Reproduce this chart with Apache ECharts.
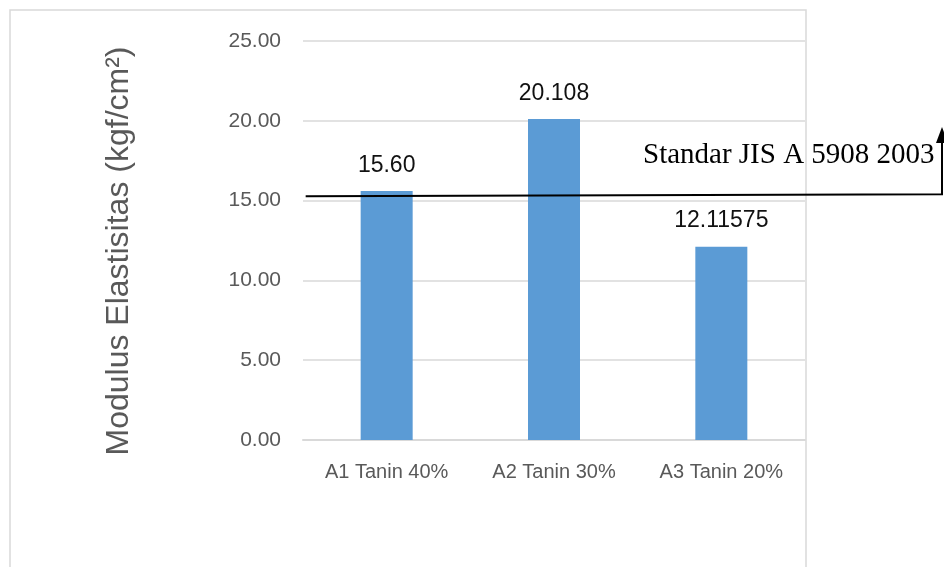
<!DOCTYPE html>
<html>
<head>
<meta charset="utf-8">
<script src="https://cdn.jsdelivr.net/npm/echarts@6/dist/echarts.min.js"></script>
<style>
  html, body { margin: 0; padding: 0; background: #fff; }
  #chart { width: 944px; height: 567px; }
</style>
</head>
<body>
<div id="chart"></div>
<script>
// Modulus of elasticity per tannin level
const categories = ['A1 Tanin 40%', 'A2 Tanin 30%', 'A3 Tanin 20%'];
const modulusValues = [15.60, 20.108, 12.11575];
const valueLabels = ['15.60', '20.108', '12.11575'];
const yTicks = { min: 0, max: 25, interval: 5 };
const yTitle = 'Modulus Elastisitas (kgf/cm²)';
// JIS A 5908 2003 reference level (left end, right end)
const standardLevel = [15.28, 15.40];
const standardText = 'Standar JIS A 5908 2003';

const chart = echarts.init(document.getElementById('chart'), null, { renderer: 'canvas' });

const sansFont = '"Liberation Sans", Arial, sans-serif';
const serifFont = '"Liberation Serif", "Times New Roman", serif';

chart.setOption({
  animation: false,
  backgroundColor: '#ffffff',
  grid: { left: 303, right: 139, top: 41, bottom: 127, containLabel: false },
  xAxis: {
    type: 'category',
    data: categories,
    axisTick: { show: false },
    axisLine: { show: true, lineStyle: { color: '#D9D9D9', width: 2 } },
    axisLabel: { color: '#595959', fontFamily: sansFont, fontSize: 20, margin: 22 }
  },
  yAxis: {
    type: 'value',
    min: yTicks.min,
    max: yTicks.max,
    interval: yTicks.interval,
    axisLine: { show: false },
    axisTick: { show: false },
    splitLine: { lineStyle: { color: '#D9D9D9', width: 1.5 } },
    axisLabel: {
      color: '#595959', fontFamily: sansFont, fontSize: 21, margin: 22,
      formatter: v => v.toFixed(2)
    }
  },
  series: [{
    type: 'bar',
    data: modulusValues,
    barWidth: 52,
    itemStyle: { color: '#5B9BD5' },
    label: {
      show: true,
      position: 'top',
      distance: 14,
      color: '#111111',
      fontFamily: sansFont,
      fontSize: 23,
      formatter: p => valueLabels[p.dataIndex]
    }
  }]
});

// Chart frame, axis title, standard reference line with arrow, and its caption
const yLeft = chart.convertToPixel({ yAxisIndex: 0 }, standardLevel[0]);
const yRight = chart.convertToPixel({ yAxisIndex: 0 }, standardLevel[1]);
const xLeft = chart.convertToPixel({ xAxisIndex: 0 }, categories[0]) - 81;
const arrowX = 942;

chart.setOption({
  graphic: [
    {
      type: 'rect',
      shape: { x: 10, y: 10, width: 796, height: 620 },
      style: { fill: 'none', stroke: '#D9D9D9', lineWidth: 1.5 },
      silent: true, z: 0
    },
    {
      type: 'text',
      x: 119, y: 251,
      rotation: Math.PI / 2,
      style: {
        text: yTitle,
        font: '32px ' + sansFont,
        fill: '#595959',
        align: 'center',
        verticalAlign: 'middle'
      },
      silent: true, z: 50
    },
    {
      type: 'polyline',
      shape: { points: [[xLeft, yLeft], [arrowX, yRight], [arrowX, 140]] },
      style: { fill: 'none', stroke: '#000000', lineWidth: 2 },
      silent: true, z: 100
    },
    {
      type: 'polygon',
      shape: { points: [[936, 143], [arrowX, 127], [948, 143]] },
      style: { fill: '#000000' },
      silent: true, z: 100
    },
    {
      type: 'text',
      x: 643, y: 155,
      style: {
        text: standardText,
        font: '29px ' + serifFont,
        fill: '#000000',
        align: 'left',
        verticalAlign: 'middle'
      },
      silent: true, z: 100
    }
  ]
});
</script>
</body>
</html>
